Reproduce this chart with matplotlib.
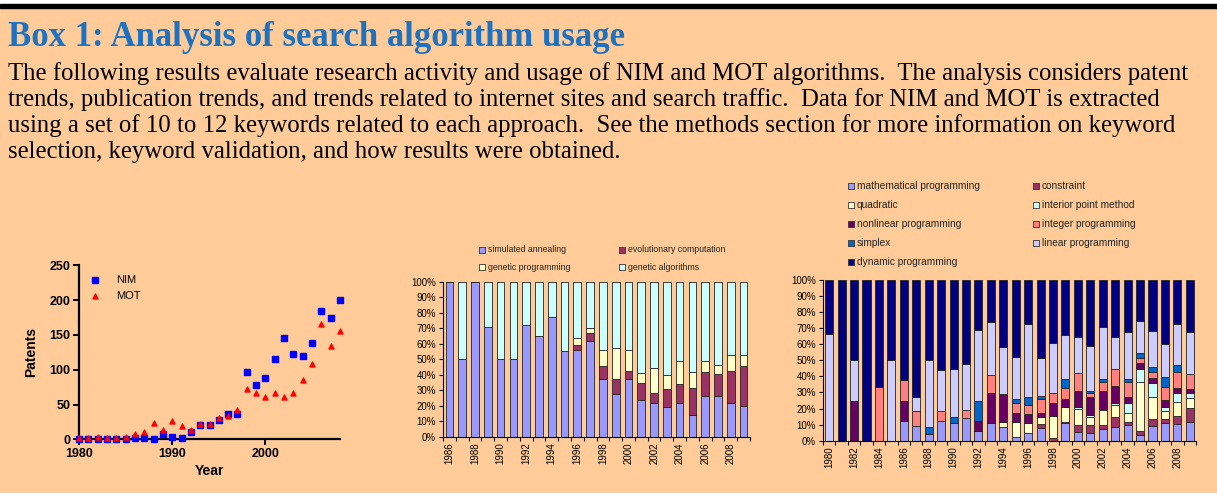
import numpy as np
import matplotlib
matplotlib.use("Agg")
import matplotlib.pyplot as plt
from matplotlib.patches import Rectangle

W, H = 1217, 493
BG = "#FFCC99"

# ---- patents (left) ----
pat_years = list(range(1980, 2009))
nim = [0, 0, 0, 0, 0, 0, 2, 2, 1, 7, 3, 2, 10, 20, 21, 28, 36, 37,
       96, 78, 88, 115, 145, 123, 120, 138, 184, 175, 200]
mot = [2, 2, 3, 2, 2, 3, 7, 10, 24, 14, 26, 19, 14, 22, 22, 31, 33, 42,
       72, 67, 61, 66, 61, 66, 85, 108, 165, 134, 155]

# ---- NIM publications (middle) ----
nim_years = list(range(1986, 2010))
sim_annealing = [100, 50, 100, 71, 50, 50, 72, 65, 77.5, 55, 56, 62, 37, 27.5,
                 37.5, 24, 22, 19, 22, 14, 26, 26, 21.5, 20]
evo_comp = [0, 0, 0, 0, 0, 0, 0, 0, 0, 0, 3, 5, 8.5, 10, 5, 10.5, 6.5, 11.5,
            12, 17.5, 16, 14.5, 21, 25.5]
gen_prog = [0, 0, 0, 0, 0, 0, 0, 0, 0, 0, 5, 3, 10.5, 20, 13.5, 6.5, 16, 9.5,
            15, 10, 7, 5.5, 10.5, 7.5]
gen_alg = [0, 50, 0, 29, 50, 50, 28, 35, 22.5, 45, 36, 30, 44, 42.5, 44, 59,
           55.5, 60, 51, 58.5, 51, 54, 47, 47]

# ---- MOT publications (right) ----
mot_years = list(range(1980, 2010))
math_prog = [0, 0, 0, 0, 0, 0, 12.5, 9.1, 4.2, 12.5, 11.1, 14.3, 6.25, 11.1, 8.3,
             2.5, 4.6, 8.1, 0, 10.8, 5.6, 4.8, 7.3, 8.7, 9.5, 3.5, 9.3, 10.8, 10.2, 11.8]
constraint = [0] * 15 + [0, 0, 2.3, 1.5, 1, 3.9, 4.7, 2.7, 6.2, 2.3, 2.7, 4.4, 2.7, 5.2, 8.3]
quadratic = [0] * 14 + [3.5, 9, 6.2, 4.5, 14.1, 9.4, 10.4, 5.4, 9.1, 7.1, 5.2, 30.5,
                        13.7, 5.2, 8.7, 6.2]
interior = [0] * 20 + [1.2, 1.1, 0.8, 1.2, 6.2, 7.7, 8.3, 2, 5.8, 3.2]
nonlinear = [0, 0, 25, 0, 0, 0, 12.5, 0, 0, 0, 0, 0, 6.25, 18.5, 17, 6, 5.6, 2.1,
             7.6, 4.5, 9.9, 11, 10.8, 10.8, 3.8, 3.7, 3.1, 4.6, 2.7, 2.7]
integer = [0, 0, 0, 0, 33.3, 0, 12.5, 9.1, 0, 6.25, 0, 4.8, 0, 11.1, 0, 5.7, 5.8,
           8.9, 6.7, 6.9, 10.8, 2.5, 6, 10.4, 9.7, 3.6, 4.1, 8.3, 10.3, 9.1]
simplex = [0, 0, 0, 0, 0, 0, 0, 0, 4.2, 0, 3.7, 0, 12.5, 0, 0, 2.5, 5.2, 2.1, 0,
           5.6, 0, 1.6, 1.5, 0, 1.9, 3.1, 3.2, 6.2, 4.2, 0]
linear = [66.7, 0, 25, 0, 0, 50, 0, 9.1, 41.6, 25, 29.6, 28.6, 43.75, 33.3, 29.7,
          26.6, 45, 23.7, 30.7, 27.4, 22.8, 27.8, 32.8, 20.3, 29, 19.9, 22.4, 20.2,
          25.3, 26.3]
dynamic = [33.3, 100, 50, 100, 66.7, 50, 62.5, 72.7, 50, 56.25, 55.6, 52.4, 31.25,
           25.9, 41.5, 47.7, 27.6, 48.3, 39.4, 34.4, 35.3, 41.1, 29, 35.3, 32.4,
           25.3, 31.5, 40, 27.6, 32.4]

title = "Box 1: Analysis of search algorithm usage"
body = [
    "The following results evaluate research activity and usage of NIM and MOT algorithms.  The analysis considers patent",
    "trends, publication trends, and trends related to internet sites and search traffic.  Data for NIM and MOT is extracted",
    "using a set of 10 to 12 keywords related to each approach.  See the methods section for more information on keyword",
    "selection, keyword validation, and how results were obtained.",
]

plt.rcParams["font.family"] = ["Liberation Sans", "DejaVu Sans"]

fig = plt.figure(figsize=(W / 100, H / 100), dpi=100, facecolor=BG)


def fx(x):
    return x / W


def fy(y):
    return 1 - y / H


def axes_px(l, t, r, b):
    return fig.add_axes([fx(l), fy(b), (r - l) / W, (b - t) / H])


# top border
fig.patches.append(Rectangle((0, fy(4)), 1, 4 / H, transform=fig.transFigure,
                             color="white", zorder=0))
fig.patches.append(Rectangle((0, fy(8)), 1, 4 / H, transform=fig.transFigure,
                             color="black", zorder=0))

fig.text(fx(8), fy(46), title, family="Liberation Serif", weight="bold",
         fontsize=25, color="#1F72C0", va="baseline")
for i, line in enumerate(body):
    fig.text(fx(8), fy(80 + 26 * i), line, family="Liberation Serif",
             fontsize=17.8, color="black", va="baseline")

# ---------- left: patents ----------
ax1 = axes_px(79, 265.3, 340, 439.3)
ax1.set_facecolor(BG)
ax1.scatter(pat_years, nim, marker="s", s=13, color="#0000FF", zorder=3,
            label="NIM", clip_on=False)
ax1.scatter(pat_years, mot, marker="^", s=13, color="#FF0000", zorder=3,
            label="MOT", clip_on=False)
ax1.set_xlim(1980, 2008)
ax1.set_ylim(0, 250)
ax1.set_xticks([1980, 1990, 2000])
ax1.set_yticks(range(0, 251, 50))
for s in ["top", "right"]:
    ax1.spines[s].set_visible(False)
for s in ["left", "bottom"]:
    ax1.spines[s].set_linewidth(1.6)
ax1.tick_params(width=1.4, length=4, labelsize=9, pad=2)
for lab in ax1.get_xticklabels() + ax1.get_yticklabels():
    lab.set_fontweight("bold")
ax1.set_xlabel("Year", fontsize=10, weight="bold", labelpad=3)
ax1.set_ylabel("Patents", fontsize=10, weight="bold", labelpad=8)
ax1.legend(loc="upper left", frameon=False, fontsize=8, handletextpad=0.9,
           borderaxespad=0.0, bbox_to_anchor=(0.0, 0.97), markerscale=1.0)


def stacked(ax, years, series, colors, width):
    x = np.arange(len(years))
    data = np.array(series, dtype=float)
    data = data / data.sum(axis=0) * 100
    bottom = np.zeros(len(years))
    for vals, c in zip(data, colors):
        ax.bar(x, vals, width, bottom=bottom, color=c, edgecolor="#222222",
               linewidth=0.6, zorder=2)
        bottom += vals
    ax.set_facecolor(BG)
    ax.set_xlim(-0.5, len(years) - 0.5)
    ax.set_ylim(0, 100)
    ax.set_yticks(range(0, 101, 10))
    ax.set_yticklabels([f"{v}%" for v in range(0, 101, 10)], fontsize=7)
    ax.set_xticks(x[::2])
    ax.set_xticklabels([str(y) for y in years[::2]], rotation=90, fontsize=7)
    ax.set_xticks(np.arange(-0.5, len(years)), minor=True)
    ax.tick_params(axis="x", which="major", length=0, pad=4)
    ax.tick_params(axis="x", which="minor", length=3, width=0.8)
    ax.tick_params(axis="y", length=3, width=0.8, pad=2)
    for s in ["top", "right"]:
        ax.spines[s].set_visible(False)
    for s in ["left", "bottom"]:
        ax.spines[s].set_linewidth(0.8)


def legend_px(items, colors, cols_x, rows_y, size):
    for k, (lab, c) in enumerate(zip(items, colors)):
        r, col = divmod(k, 2)
        x, y = cols_x[col], rows_y[r]
        fig.patches.append(Rectangle((fx(x - 3), fy(y + 3)), 6 / W, 6 / H,
                                     transform=fig.transFigure, facecolor=c,
                                     edgecolor="#333333", linewidth=0.6))
        fig.text(fx(x + 6), fy(y), lab, fontsize=size, va="center",
                 color="#222222")


# ---------- middle: NIM ----------
ax2 = axes_px(443, 281.7, 750, 436.7)
nim_cols = ["#9999FF", "#993366", "#FFFFCC", "#CCFFFF"]
stacked(ax2, nim_years, [sim_annealing, evo_comp, gen_prog, gen_alg], nim_cols, 0.6)
legend_px(["simulated annealing", "evolutionary computation", "genetic programming",
           "genetic algorithms"], nim_cols, [482, 622], [250, 267], 6.3)

# ---------- right: MOT ----------
ax3 = axes_px(823, 280, 1196, 440.7)
mot_cols = ["#9999FF", "#993366", "#FFFFCC", "#CCFFFF", "#660066", "#FF8080",
            "#0066CC", "#CCCCFF", "#000080"]
stacked(ax3, mot_years, [math_prog, constraint, quadratic, interior, nonlinear,
                         integer, simplex, linear, dynamic], mot_cols, 0.65)
legend_px(["mathematical programming", "constraint", "quadratic",
           "interior point method", "nonlinear programming", "integer programming",
           "simplex", "linear programming", "dynamic programming"],
          mot_cols, [851, 1036], [186, 205, 224, 243, 262], 7.3)

fig.savefig("out.png", dpi=100, facecolor=BG)
